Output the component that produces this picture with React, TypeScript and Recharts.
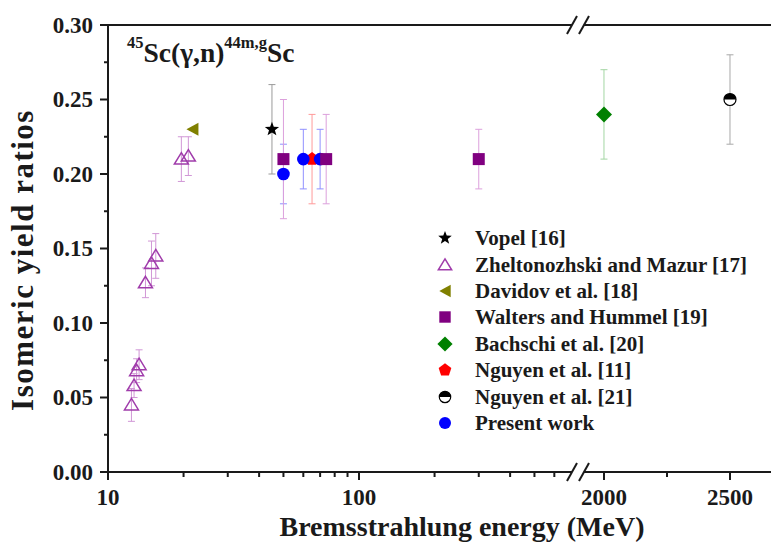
import React from "react";
import {
  ScatterChart,
  Scatter,
  XAxis,
  YAxis,
  ErrorBar,
  ReferenceLine,
  Legend,
} from "recharts";

const FONT = '"Liberation Serif", "Times New Roman", serif';
const INK = "#1a1a1a";

// energies (MeV), isomeric ratios and their errors
const vopelE = [45];
const vopelR = [0.23];
const vopelErr = [0.03];

const zheltE = [12.4, 12.7, 13.0, 13.3, 14.1, 14.9, 15.5, 19.6, 20.9];
const zheltR = [0.045, 0.058, 0.068, 0.072, 0.127, 0.14, 0.145, 0.21, 0.212];
const zheltErr = [0.011, 0.008, 0.008, 0.01, 0.01, 0.015, 0.015, 0.015, 0.013];

const davidovE = [21.7];
const davidovR = [0.23];

const waltersE = [50, 74, 300];
const waltersR = [0.21, 0.21, 0.21];
const waltersErr = [0.04, 0.03, 0.02];

const bachschiE = [2000];
const bachschiR = [0.24];
const bachschiErr = [0.03];

const nguyen11E = [65];
const nguyen11R = [0.21];
const nguyen11Err = [0.03];

const nguyen21E = [2500];
const nguyen21R = [0.25];
const nguyen21Err = [0.03];

const presentE = [50, 60, 70];
const presentR = [0.2, 0.21, 0.21];
const presentErr = [0.02, 0.02, 0.02];

const X_TICKS_MEV = [10, 20, 30, 40, 50, 60, 70, 80, 90, 100, 200, 300, 400, 500, 600, 2000, 2250, 2500];
const X_LABELED = [10, 100, 2000, 2500];
const Y_TICKS = [0, 0.025, 0.05, 0.075, 0.1, 0.125, 0.15, 0.175, 0.2, 0.225, 0.25, 0.275, 0.3];

const LEGEND_ORDER = [
  "Vopel [16]",
  "Zheltonozhski and Mazur [17]",
  "Davidov et al. [18]",
  "Walters and Hummel [19]",
  "Bachschi et al. [20]",
  "Nguyen et al. [11]",
  "Nguyen et al. [21]",
  "Present work",
];

// broken x axis: log10 below the break, linear piece above it
const T_2000 = 2.976;
const T_PER_MEV = 0.001004;
const toAxis = (e: number) => (e < 1000 ? Math.log10(e) : T_2000 + (e - 2000) * T_PER_MEV);
const T_MIN = 1;
const T_MAX = 3.6414;
const GAP = [2.8486, 2.8964];
const SLASH1 = [2.8287, 2.8685];
const SLASH2 = [2.8765, 2.9163];
const SLASH_DY = 0.006;

const pts = (es: number[], rs: number[], errs?: number[]) =>
  es.map((e, i) => ({ t: toAxis(e), r: rs[i], err: errs ? errs[i] : 0 }));

const STYLE: Record<string, { kind: string; color: string; bar: string }> = {
  "Vopel [16]": { kind: "star", color: "#000000", bar: "#9a9a9a" },
  "Zheltonozhski and Mazur [17]": { kind: "triUp", color: "#a03cab", bar: "#d197d6" },
  "Davidov et al. [18]": { kind: "triLeft", color: "#808000", bar: "#c0c080" },
  "Walters and Hummel [19]": { kind: "square", color: "#800080", bar: "#dca0dc" },
  "Bachschi et al. [20]": { kind: "diamond", color: "#008000", bar: "#a3d6a3" },
  "Nguyen et al. [11]": { kind: "pentagon", color: "#ff0000", bar: "#ff9a9a" },
  "Nguyen et al. [21]": { kind: "half", color: "#000000", bar: "#a8a8a8" },
  "Present work": { kind: "circle", color: "#0000ff", bar: "#9090ff" },
};

function poly(n: number, cx: number, cy: number, R: number, r: number | null, rot: number) {
  const out: string[] = [];
  const steps = r == null ? n : n * 2;
  for (let i = 0; i < steps; i++) {
    const rad = r == null || i % 2 === 0 ? R : r;
    const a = rot + (i * 2 * Math.PI) / steps;
    out.push(`${cx + rad * Math.cos(a)},${cy + rad * Math.sin(a)}`);
  }
  return out.join(" ");
}

function Marker({ kind, color, cx, cy, s = 1 }: { kind: string; color: string; cx: number; cy: number; s?: number }) {
  const up = -Math.PI / 2;
  switch (kind) {
    case "star":
      return <polygon points={poly(5, cx, cy, 7.5 * s, 3.1 * s, up)} fill={color} />;
    case "triUp":
      return (
        <polygon
          points={`${cx},${cy - 6.5 * s} ${cx + 7 * s},${cy + 5 * s} ${cx - 7 * s},${cy + 5 * s}`}
          fill="none"
          stroke={color}
          strokeWidth={1.5}
        />
      );
    case "triLeft":
      return (
        <polygon
          points={`${cx - 6 * s},${cy} ${cx + 6 * s},${cy - 6.5 * s} ${cx + 6 * s},${cy + 6.5 * s}`}
          fill={color}
        />
      );
    case "square":
      return <rect x={cx - 6 * s} y={cy - 6 * s} width={12 * s} height={12 * s} fill={color} />;
    case "diamond":
      return <polygon points={poly(4, cx, cy, 8 * s, null, up)} fill={color} />;
    case "pentagon":
      return <polygon points={poly(5, cx, cy, 7 * s, null, up)} fill={color} />;
    case "half": {
      const r = 6 * s;
      return (
        <g>
          <circle cx={cx} cy={cy} r={r} fill="#fff" stroke={color} strokeWidth={1.2} />
          <path d={`M ${cx - r} ${cy} A ${r} ${r} 0 0 1 ${cx + r} ${cy} Z`} fill={color} />
        </g>
      );
    }
    default:
      return <circle cx={cx} cy={cy} r={6.3 * s} fill={color} />;
  }
}

const shapeFor = (name: string) => (p: any) =>
  <Marker kind={STYLE[name].kind} color={STYLE[name].color} cx={p.cx} cy={p.cy} />;

const tickText = {
  fontFamily: FONT,
  fontWeight: "bold" as const,
  fontSize: 23,
  fill: INK,
};

function BottomTick(props: any) {
  const { x, y, index } = props;
  const e = X_TICKS_MEV[index];
  const major = X_LABELED.includes(e);
  return (
    <g>
      <line x1={x} x2={x} y1={y} y2={y + (major ? 8 : 5)} stroke={INK} strokeWidth={2} />
      {major && (
        <text x={x} y={y + 33} textAnchor="middle" {...tickText}>
          {e}
        </text>
      )}
    </g>
  );
}

function TopTick(props: any) {
  const { x, y, index } = props;
  const major = X_LABELED.includes(X_TICKS_MEV[index]);
  return <line x1={x} x2={x} y1={y} y2={y + (major ? 8 : 5)} stroke={INK} strokeWidth={2} />;
}

const isMajorY = (v: number) => Math.round(v * 1000) % 50 === 0;

function LeftTick(props: any) {
  const { x, y, payload } = props;
  const major = isMajorY(payload.value);
  return (
    <g>
      <line x1={x - (major ? 8 : 4)} x2={x} y1={y} y2={y} stroke={INK} strokeWidth={2} />
      {major && (
        <text x={x - 15} y={y + 7.5} textAnchor="end" {...tickText}>
          {payload.value.toFixed(2)}
        </text>
      )}
    </g>
  );
}

function RightTick(props: any) {
  const { x, y, payload } = props;
  const major = isMajorY(payload.value);
  return <line x1={x - (major ? 7 : 4)} x2={x} y1={y} y2={y} stroke={INK} strokeWidth={1.5} />;
}

const Title = () => (
  <text x={127} y={62} fontFamily={FONT} fontWeight="bold" fill={INK}>
    <tspan fontSize={16.5} y={48}>45</tspan>
    <tspan fontSize={27.5} y={62}>Sc(γ,n)</tspan>
    <tspan fontSize={16.5} y={48}>44m,g</tspan>
    <tspan fontSize={27.5} y={62}>Sc</tspan>
  </text>
);

const XTitle = () => (
  <g>
    <text x={462} y={536} textAnchor="middle" fontFamily={FONT} fontWeight="bold" fontSize={28} fill={INK}>
      Bremsstrahlung energy (MeV)
    </text>
    <Title />
  </g>
);

const YTitle = () => (
  <text
    transform="translate(33,260) rotate(-90)"
    textAnchor="middle"
    fontFamily={FONT}
    fontWeight="bold"
    fontSize={31}
    letterSpacing={1.5}
    fill={INK}
  >
    Isomeric yield ratios
  </text>
);

function LegendBox() {
  return (
    <div style={{ fontFamily: FONT, fontWeight: "bold", fontSize: 21, color: INK }}>
      {LEGEND_ORDER.map((name) => (
        <div key={name} style={{ display: "flex", alignItems: "center", height: 26.4 }}>
          <svg width={30} height={26} style={{ display: "block" }}>
            <Marker kind={STYLE[name].kind} color={STYLE[name].color} cx={15} cy={13} s={0.95} />
          </svg>
          <span style={{ marginLeft: 15, whiteSpace: "nowrap", lineHeight: "26px" }}>{name}</span>
        </div>
      ))}
    </div>
  );
}

const seg = (key: string, x1: number, y1: number, x2: number, y2: number) => (
  <ReferenceLine
    key={key}
    xAxisId="b"
    yAxisId="l"
    segment={[
      { x: x1, y: y1 },
      { x: x2, y: y2 },
    ]}
    stroke={INK}
    strokeWidth={2}
    ifOverflow="visible"
  />
);

const series: [string, any[]][] = [
  ["Zheltonozhski and Mazur [17]", pts(zheltE, zheltR, zheltErr)],
  ["Davidov et al. [18]", pts(davidovE, davidovR)],
  ["Vopel [16]", pts(vopelE, vopelR, vopelErr)],
  ["Nguyen et al. [11]", pts(nguyen11E, nguyen11R, nguyen11Err)],
  ["Present work", pts(presentE, presentR, presentErr)],
  ["Walters and Hummel [19]", pts(waltersE, waltersR, waltersErr)],
  ["Bachschi et al. [20]", pts(bachschiE, bachschiR, bachschiErr)],
  ["Nguyen et al. [21]", pts(nguyen21E, nguyen21R, nguyen21Err)],
];

export default function App() {
  const xTicks = X_TICKS_MEV.map(toAxis);
  return (
    <div style={{ position: "absolute", left: 0, top: 0, width: 771, height: 543, background: "#fff" }}>
      <ScatterChart width={771} height={543} margin={{ top: 25, right: 0, bottom: 0, left: 0 }}>
        <XAxis
          xAxisId="b"
          type="number"
          dataKey="t"
          domain={[T_MIN, T_MAX]}
          ticks={xTicks}
          interval={0}
          height={71}
          axisLine={false}
          tickLine={false}
          tickSize={0}
          tickMargin={0}
          tick={<BottomTick />}
          label={{ content: () => <XTitle /> }}
        />
        <XAxis
          xAxisId="top"
          orientation="top"
          type="number"
          domain={[T_MIN, T_MAX]}
          ticks={xTicks}
          interval={0}
          height={0}
          axisLine={false}
          tickLine={false}
          tickSize={0}
          tickMargin={0}
          tick={<TopTick />}
        />
        <YAxis
          yAxisId="l"
          type="number"
          dataKey="r"
          domain={[0, 0.3]}
          ticks={Y_TICKS}
          interval={0}
          width={108}
          axisLine={{ stroke: INK, strokeWidth: 2 }}
          tickLine={false}
          tickSize={0}
          tickMargin={0}
          tick={<LeftTick />}
          label={{ content: () => <YTitle /> }}
        />
        <YAxis
          yAxisId="rt"
          orientation="right"
          type="number"
          domain={[0, 0.3]}
          ticks={Y_TICKS}
          interval={0}
          width={0}
          axisLine={false}
          tickLine={false}
          tickSize={0}
          tickMargin={0}
          tick={<RightTick />}
        />
        {series.map(([name, data]) => (
          <Scatter
            key={name}
            name={name}
            xAxisId="b"
            yAxisId="l"
            data={data}
            fill={STYLE[name].color}
            shape={shapeFor(name)}
            isAnimationActive={false}
          >
            {data.some((d) => d.err > 0) && (
              <ErrorBar dataKey="err" direction="y" width={3.5} stroke={STYLE[name].bar} strokeWidth={1} />
            )}
          </Scatter>
        ))}
        {seg("b1", T_MIN, 0, GAP[0], 0)}
        {seg("b2", GAP[1], 0, T_MAX, 0)}
        {seg("t1", T_MIN, 0.3, GAP[0], 0.3)}
        {seg("t2", GAP[1], 0.3, T_MAX, 0.3)}
        {seg("bs1", SLASH1[0], -SLASH_DY, SLASH1[1], SLASH_DY)}
        {seg("bs2", SLASH2[0], -SLASH_DY, SLASH2[1], SLASH_DY)}
        {seg("ts1", SLASH1[0], 0.3 - SLASH_DY, SLASH1[1], 0.3 + SLASH_DY)}
        {seg("ts2", SLASH2[0], 0.3 - SLASH_DY, SLASH2[1], 0.3 + SLASH_DY)}
        <Legend
          layout="vertical"
          align="center"
          verticalAlign="middle"
          content={<LegendBox />}
          wrapperStyle={{ left: 430, top: 225, width: 340 }}
        />
      </ScatterChart>
    </div>
  );
}
